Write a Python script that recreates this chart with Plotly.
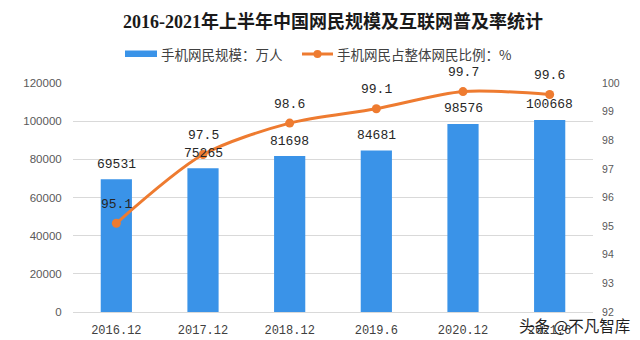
import plotly.graph_objects as go

# Data
periods = ["2016.12", "2017.12", "2018.12", "2019.6", "2020.12", "2021.6"]
mobile_users = [69531, 75265, 81698, 84681, 98576, 100668]      # 万人
mobile_share = [95.1, 97.5, 98.6, 99.1, 99.7, 99.6]             # %
left_ticks = [0, 20000, 40000, 60000, 80000, 100000, 120000]
right_ticks = [92, 93, 94, 95, 96, 97, 98, 99, 100]

title_text = "2016-2021年上半年中国网民规模及互联网普及率统计"
bar_name = "手机网民规模：万人"
line_name = "手机网民占整体网民比例：%"
credit_text = "头条 @不凡智库"

BLUE = "#3a93e8"
ORANGE = "#ee7b30"
GRID = "#d9d9d9"
TICK = "#595959"
CJK = "Noto Sans CJK SC"
MONO = "Liberation Mono, " + CJK

W, H = 640, 340
PL, PR, PT, PB = 73, 593, 83, 312


def px(x):
    return (x - PL) / (PR - PL)


def py(y):
    return (PB - y) / (PB - PT)


fig = go.Figure()
fig.add_trace(go.Bar(
    x=periods, y=mobile_users, name=bar_name,
    marker=dict(color=BLUE, line=dict(width=0)),
    width=0.36, yaxis="y", showlegend=False,
))
fig.add_trace(go.Scatter(
    x=periods, y=mobile_share, name=line_name, yaxis="y2",
    mode="lines+markers",
    line=dict(color=ORANGE, width=3, shape="spline", smoothing=0.8),
    marker=dict(color=ORANGE, size=9),
    showlegend=False,
))

annotations = []
# value labels above bars (category index positions)
for i, v in enumerate(mobile_users):
    annotations.append(dict(
        x=i, y=v, xref="x", yref="y", text=str(v), showarrow=False,
        yshift=15, font=dict(family=MONO, size=13, color="#262626"),
    ))
# value labels above line points
for i, v in enumerate(mobile_share):
    annotations.append(dict(
        x=i, y=v, xref="x", yref="y2", text=f"{v:.1f}", showarrow=False,
        yshift=19, font=dict(family=MONO, size=13, color="#262626"),
    ))

# legend entries
annotations.append(dict(
    x=px(159), y=py(54), xref="paper", yref="paper", text=bar_name,
    showarrow=False, xanchor="left", yanchor="middle",
    font=dict(family=CJK, size=13.5, color="#404040"),
))
annotations.append(dict(
    x=px(335), y=py(54), xref="paper", yref="paper", text=line_name,
    showarrow=False, xanchor="left", yanchor="middle",
    font=dict(family=CJK, size=13.5, color="#404040"),
))
# credit line
annotations.append(dict(
    x=px(632), y=py(325), xref="paper", yref="paper", text=credit_text,
    showarrow=False, xanchor="right", yanchor="middle",
    font=dict(family=CJK, size=15.5, color="#1e1e1e"),
))

shapes = [
    dict(type="rect", xref="paper", yref="paper",
         x0=px(125), x1=px(157), y0=py(57), y1=py(50.5),
         fillcolor=BLUE, line=dict(width=0)),
    dict(type="line", xref="paper", yref="paper",
         x0=px(302), x1=px(333), y0=py(54), y1=py(54),
         line=dict(color=ORANGE, width=3)),
    dict(type="circle", xref="paper", yref="paper",
         x0=px(313.5), x1=px(321.5), y0=py(58), y1=py(50),
         fillcolor=ORANGE, line=dict(width=0)),
]

fig.update_layout(
    width=W, height=H,
    margin=dict(l=PL, r=W - PR, t=PT, b=H - PB, pad=0),
    paper_bgcolor="white", plot_bgcolor="white",
    title=dict(
        text=title_text, x=0.5, xanchor="center", y=1 - 22 / H, yanchor="middle",
        xref="paper",
        font=dict(family="Liberation Serif, " + CJK, size=18, color="#1a1a1a",
                  weight="bold"),
    ),
    xaxis=dict(
        type="category", range=[-0.5, len(periods) - 0.5], automargin=False,
        showgrid=False, showline=False, zeroline=False,
        ticks="outside", ticklen=7, tickcolor="rgba(0,0,0,0)",
        tickfont=dict(family=MONO, size=12, color="#404040"),
    ),
    yaxis=dict(
        range=[0, 120000], tickvals=left_ticks, tickformat="d", automargin=False,
        showgrid=True, gridcolor=GRID, gridwidth=1,
        zeroline=True, zerolinecolor=GRID, zerolinewidth=1, showline=False,
        ticks="outside", ticklen=8, tickcolor="rgba(0,0,0,0)",
        tickfont=dict(family="Liberation Sans", size=11.5, color=TICK),
    ),
    yaxis2=dict(
        range=[92, 100], tickvals=right_ticks, overlaying="y", side="right",
        automargin=False,
        showgrid=False, zeroline=False, showline=False,
        ticks="outside", ticklen=6, tickcolor="rgba(0,0,0,0)",
        tickfont=dict(family="Liberation Sans Narrow, Liberation Sans", size=10.5,
                      color=TICK),
    ),
    annotations=annotations,
    shapes=shapes,
    showlegend=False,
)

fig.write_html("out.html")
